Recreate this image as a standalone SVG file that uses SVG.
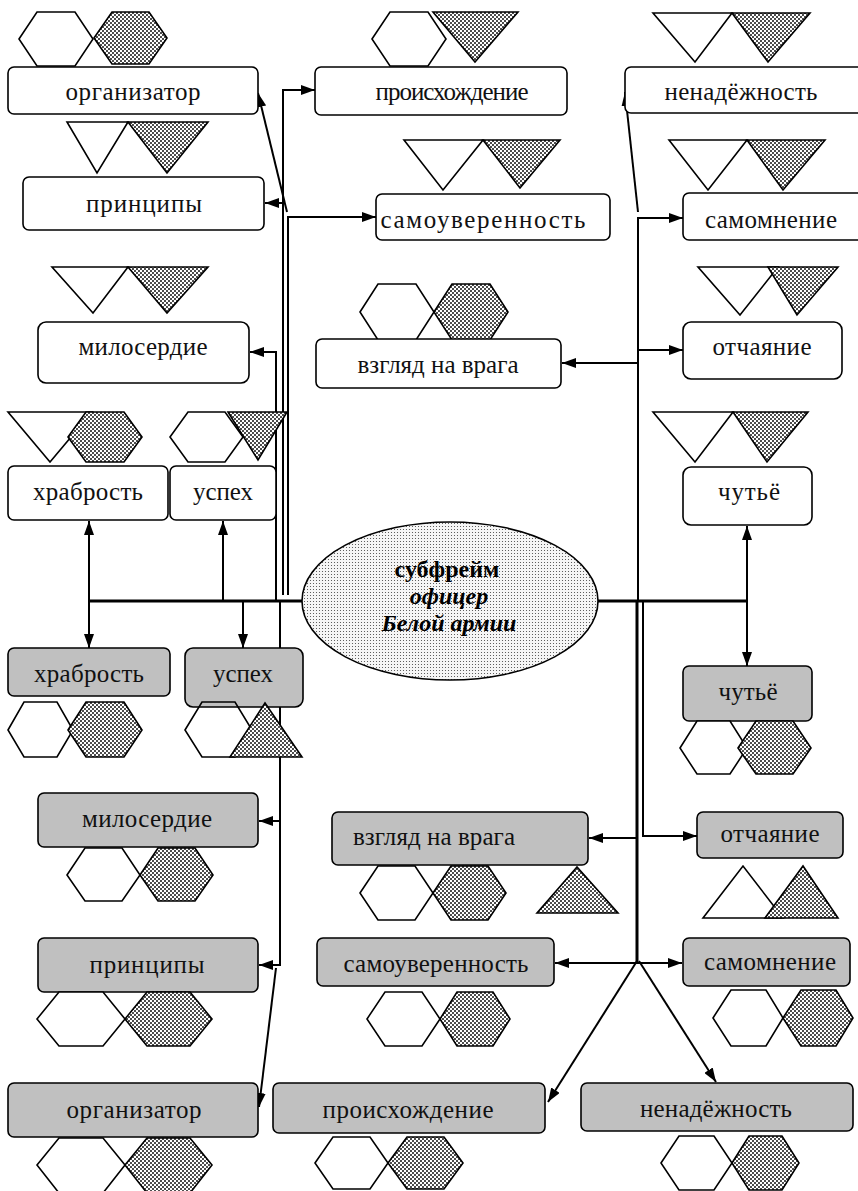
<svg xmlns="http://www.w3.org/2000/svg" width="858" height="1191" viewBox="0 0 858 1191">
<style>
.bw{fill:#fff;stroke:#000;stroke-width:1.6}
.bg{fill:#c0c0c0;stroke:#000;stroke-width:1.6}
.w{fill:#fff;stroke:#000;stroke-width:1.6}
.wn{fill:none;stroke:#000;stroke-width:1.6}
.d{fill:url(#dots);stroke:#000;stroke-width:1.6}
.t{font-family:"Liberation Serif","DejaVu Serif",serif;font-size:25px;fill:#111;text-anchor:middle}
.c{fill:none;stroke:#000;stroke-width:2}
.ct{fill:none;stroke:#000;stroke-width:3}
.a{marker-end:url(#ah)}
.et{font-family:"Liberation Serif","DejaVu Serif",serif;font-size:24px;font-weight:bold;fill:#000;text-anchor:middle}
</style>
<defs>
<pattern id="dots" width="4" height="4" patternUnits="userSpaceOnUse">
<rect width="4" height="4" fill="#fff"/>
<circle cx="1" cy="1" r="0.95" fill="#000"/>
<circle cx="3" cy="3" r="0.95" fill="#000"/>
</pattern>
<pattern id="edots" width="3" height="3" patternUnits="userSpaceOnUse">
<rect width="3" height="3" fill="#f6f6f6"/>
<circle cx="1.5" cy="1.5" r="0.55" fill="#444"/>
</pattern>
<marker id="ah" markerWidth="14" markerHeight="10" refX="14" refY="5" orient="auto" markerUnits="userSpaceOnUse">
<path d="M0,0 L14,5 L0,10 z" fill="#000"/>
</marker>
<marker id="as" markerWidth="14" markerHeight="10" refX="0" refY="5" orient="auto" markerUnits="userSpaceOnUse">
<path d="M14,0 L0,5 L14,10 z" fill="#000"/>
</marker>
</defs>

<g id="connectors">
<polyline class="c a" points="283,595 283,90 315,90"/>
<polyline class="c a" points="288,595 288,217 376,217"/>
<line class="c a" x1="283" y1="203" x2="265" y2="203"/>
<line class="c a" x1="287" y1="212" x2="258" y2="93"/>
<polyline class="c a" points="276,601 276,352 250,352"/>
<line class="ct" x1="89" y1="601" x2="303" y2="601"/>
<line class="c a" x1="89" y1="601" x2="89" y2="521"/>
<line class="c a" x1="89" y1="601" x2="89" y2="648"/>
<line class="c a" x1="223" y1="601" x2="223" y2="521"/>
<line class="c a" x1="243" y1="601" x2="243" y2="648"/>
<polyline class="c a" points="280,601 280,965 259,965"/>
<line class="c a" x1="280" y1="821" x2="259" y2="821"/>
<line class="c a" x1="276" y1="968" x2="259" y2="1107"/>

<line class="ct" x1="597" y1="601" x2="747" y2="601"/>
<line class="c a" x1="747" y1="601" x2="747" y2="526"/>
<line class="c a" x1="747" y1="601" x2="747" y2="666"/>
<polyline class="c a" points="638,601 638,218 683,218"/>
<line class="c a" x1="638" y1="212" x2="625" y2="92"/>
<line class="c a" x1="638" y1="350" x2="683" y2="350"/>
<line class="c a" x1="638" y1="363" x2="562" y2="363"/>
<line class="ct" x1="637" y1="601" x2="637" y2="963"/>
<polyline class="c a" points="643,601 643,836 697,836"/>
<line class="c a" x1="637" y1="838" x2="589" y2="838"/>
<line class="c" x1="555" y1="963" x2="682" y2="963" style="marker-start:url(#as);marker-end:url(#ah)"/>
<line class="c a" x1="637" y1="961" x2="548" y2="1102"/>
<line class="c a" x1="639" y1="961" x2="716" y2="1082"/>
</g>

<g id="center">
<ellipse cx="450" cy="601" rx="148" ry="79" fill="url(#edots)" stroke="#000" stroke-width="1.6"/>
<text class="et" x="447" y="577">субфрейм</text>
<text class="et" x="449" y="604" font-style="italic">офицер</text>
<text class="et" x="449" y="631" font-style="italic">Белой армии</text>
</g>

<g id="n-organizator-top">
<polygon class="w" points="19,39 37,12 75,12 93,39 75,66 37,66"/>
<polygon class="d" points="94,38 112,12 149,12 167,38 149,64 112,64"/>
<rect class="bw" x="8" y="67" width="250" height="47" rx="6"/>
<text class="t" x="133" y="100" textLength="135">организатор</text>
</g>
<g id="n-proishozhdenie-top">
<polygon class="w" points="372,39 390,12 428,12 446,39 428,66 390,66"/>
<polygon class="d" points="433,12 518,12 475,62"/>
<rect class="bw" x="315" y="67" width="252" height="48" rx="6"/>
<text class="t" x="452" y="100" textLength="153">происхождение</text>
</g>
<g id="n-nenadezhnost-top">
<polygon class="w" points="653,13 732,13 695,62"/>
<polygon class="d" points="732,13 810,13 768,62"/>
<rect class="bw" x="625" y="67" width="240" height="46" rx="6"/>
<text class="t" x="741" y="100" textLength="153">ненадёжность</text>
</g>
<g id="n-principy-top">
<polygon class="w" points="67,122 128,122 97,173"/>
<polygon class="d" points="128,122 208,122 167,173"/>
<rect class="bw" x="23" y="177" width="241" height="53" rx="6"/>
<text class="t" x="144" y="212" textLength="116">принципы</text>
</g>
<g id="n-samouverennost-top">
<polygon class="w" points="404,140 483,140 443,190"/>
<polygon class="d" points="483,140 560,140 520,188"/>
<rect class="bw" x="376" y="194" width="234" height="46" rx="6"/>
<text class="t" x="483" y="228" textLength="205">самоуверенность</text>
</g>
<g id="n-samomnenie-top">
<polygon class="w" points="669,140 747,140 708,190"/>
<polygon class="d" points="747,140 825,140 783,190"/>
<rect class="bw" x="683" y="193" width="182" height="47" rx="6"/>
<text class="t" x="771" y="228" textLength="132">самомнение</text>
</g>
<g id="n-vzglyad-top">
<polygon class="w" points="360,312 378,284 416,284 434,312 416,340 378,340"/>
<polygon class="d" points="434,312 452,284 490,284 508,312 490,340 452,340"/>
<rect class="bw" x="316" y="339" width="245" height="49" rx="6"/>
<text class="t" x="438" y="373" textLength="161">взгляд на врага</text>
</g>
<g id="n-miloserdie-top">
<polygon class="w" points="52,267 128,267 93,313"/>
<polygon class="d" points="128,267 208,267 167,313"/>
<rect class="bw" x="38" y="322" width="211" height="61" rx="8"/>
<text class="t" x="143" y="355" textLength="129">милосердие</text>
</g>
<g id="n-otchayanie-top">
<polygon class="w" points="698,267 778,267 740,315"/>
<polygon class="d" points="768,267 838,267 797,315"/>
<rect class="bw" x="683" y="322" width="159" height="57" rx="8"/>
<text class="t" x="762" y="355" textLength="99">отчаяние</text>
</g>
<g id="n-hrabrost-top">
<polygon class="w" points="8,412 92,412 50,462"/>
<polygon class="d" points="68,437 86,412 124,412 142,437 124,462 86,462"/>
<rect class="bw" x="8" y="466" width="160" height="54" rx="6"/>
<text class="t" x="88" y="500" textLength="110">храбрость</text>
</g>
<g id="n-uspeh-top">
<polygon class="w" points="170,437 188,412 225,412 243,437 225,462 188,462"/>
<polygon class="d" points="228,412 287,412 258,460"/>
<rect class="bw" x="170" y="466" width="106" height="54" rx="6"/>
<text class="t" x="223" y="500" textLength="60">успех</text>
</g>
<g id="n-chutyo-top">
<polygon class="w" points="653,412 733,412 695,462"/>
<polygon class="d" points="733,412 808,412 767,462"/>
<rect class="bw" x="683" y="467" width="129" height="58" rx="8"/>
<text class="t" x="749" y="500" textLength="62">чутьё</text>
</g>

<g id="n-hrabrost-bottom">
<rect class="bg" x="8" y="648" width="162" height="48" rx="6"/>
<text class="t" x="89" y="682" textLength="110">храбрость</text>
<polygon class="w" points="8,730 24,702 57,702 73,730 57,757 24,757"/>
<polygon class="d" points="68,730 86,702 124,702 142,730 124,757 86,757"/>
</g>
<g id="n-uspeh-bottom">
<rect class="bg" x="185" y="648" width="118" height="59" rx="8"/>
<text class="t" x="243" y="682" textLength="60">успех</text>
<polygon class="wn" points="185,730 202,702 235,702 252,730 235,757 202,757"/>
<polygon class="d" points="230,757 302,757 265,703"/>
</g>
<g id="n-chutyo-bottom">
<rect class="bg" x="683" y="666" width="129" height="55" rx="6"/>
<text class="t" x="748" y="700" textLength="59">чутьё</text>
<polygon class="w" points="680,748 697,721 730,721 747,748 730,774 697,774"/>
<polygon class="d" points="738,748 756,721 793,721 811,748 793,774 756,774"/>
</g>
<g id="n-miloserdie-bottom">
<rect class="bg" x="38" y="793" width="220" height="54" rx="6"/>
<text class="t" x="147" y="827" textLength="130">милосердие</text>
<polygon class="w" points="67,875 85,848 122,848 140,875 122,901 85,901"/>
<polygon class="d" points="140,875 158,848 195,848 213,875 195,901 158,901"/>
</g>
<g id="n-vzglyad-bottom">
<rect class="bg" x="332" y="812" width="256" height="53" rx="6"/>
<text class="t" x="434" y="845" textLength="162">взгляд на врага</text>
<polygon class="w" points="360,893 378,866 415,866 433,893 415,920 378,920"/>
<polygon class="d" points="433,893 451,866 488,866 506,893 488,920 451,920"/>
<polygon class="d" points="537,913 618,913 577,867"/>
</g>
<g id="n-otchayanie-bottom">
<rect class="bg" x="697" y="812" width="146" height="46" rx="6"/>
<text class="t" x="770" y="842" textLength="99">отчаяние</text>
<polygon class="w" points="703,918 783,918 743,866"/>
<polygon class="d" points="765,918 838,918 803,866"/>
</g>
<g id="n-samouverennost-bottom">
<rect class="bg" x="317" y="938" width="237" height="48" rx="6"/>
<text class="t" x="436" y="972" textLength="185">самоуверенность</text>
<polygon class="w" points="367,1019 385,992 422,992 440,1019 422,1046 385,1046"/>
<polygon class="d" points="440,1019 457,992 493,992 510,1019 493,1046 457,1046"/>
</g>
<g id="n-samomnenie-bottom">
<rect class="bg" x="683" y="938" width="167" height="48" rx="6"/>
<text class="t" x="770" y="970" textLength="132">самомнение</text>
<polygon class="w" points="713,1018 731,990 766,990 783,1018 766,1046 731,1046"/>
<polygon class="d" points="783,1018 801,990 836,990 853,1018 836,1046 801,1046"/>
</g>
<g id="n-principy-bottom">
<rect class="bg" x="38" y="938" width="220" height="54" rx="6"/>
<text class="t" x="147" y="973" textLength="115">принципы</text>
<polygon class="w" points="37,1019 59,992 103,992 125,1019 103,1046 59,1046"/>
<polygon class="d" points="125,1019 147,992 190,992 212,1019 190,1046 147,1046"/>
</g>
<g id="n-organizator-bottom">
<rect class="bg" x="8" y="1083" width="250" height="54" rx="6"/>
<text class="t" x="134" y="1118" textLength="135">организатор</text>
<polygon class="w" points="37,1165 59,1138 103,1138 125,1165 103,1193 59,1193"/>
<polygon class="d" points="125,1165 147,1138 190,1138 212,1165 190,1193 147,1193"/>
</g>
<g id="n-proishozhdenie-bottom">
<rect class="bg" x="273" y="1083" width="272" height="50" rx="6"/>
<text class="t" x="408" y="1118" textLength="171">происхождение</text>
<polygon class="w" points="315,1163 333,1137 370,1137 388,1163 370,1189 333,1189"/>
<polygon class="d" points="388,1163 407,1137 444,1137 463,1163 444,1189 407,1189"/>
</g>
<g id="n-nenadezhnost-bottom">
<rect class="bg" x="581" y="1083" width="272" height="48" rx="6"/>
<text class="t" x="716" y="1117" textLength="152">ненадёжность</text>
<polygon class="w" points="661,1163 679,1136 714,1136 732,1163 714,1190 679,1190"/>
<polygon class="d" points="732,1163 749,1136 782,1136 799,1163 782,1190 749,1190"/>
</g>
</svg>
